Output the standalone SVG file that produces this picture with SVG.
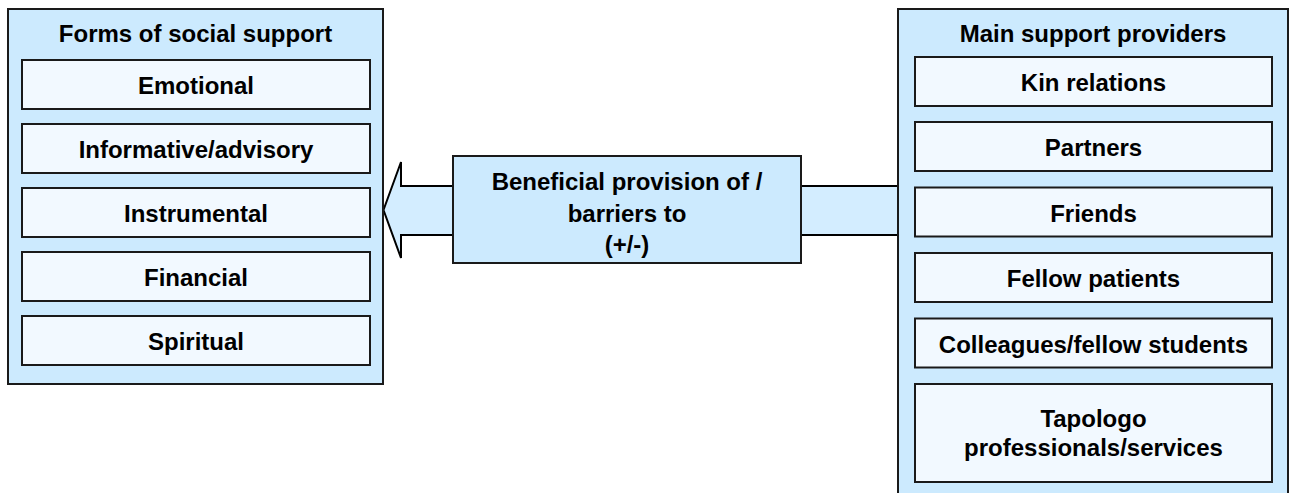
<svg xmlns="http://www.w3.org/2000/svg" width="1293" height="493" viewBox="0 0 1293 493">
<style>
text{font-family:"Liberation Sans",Arial,sans-serif;font-weight:bold;font-size:24px;fill:#000;text-anchor:middle}
.outer{fill:#CCEAFE;stroke:#1a1a1a;stroke-width:2}
.inner{fill:#F2F9FF;stroke:#1a1a1a;stroke-width:2}
.mid{fill:#CCEAFE;stroke:#1a1a1a;stroke-width:2}
.arrow{fill:#D3EDFF;stroke:#000;stroke-width:2;stroke-linejoin:miter}
</style>
<rect width="1293" height="493" fill="#fff"/>
<g id="connectors">
<polygon class="arrow" points="898,186 401,186 401,162 383.5,210 401,258 401,235 898,235"/>
</g>
<g id="forms">
<rect class="outer" x="8" y="9" width="375" height="375"/>
<text x="195.5" y="42">Forms of social support</text>
</g>
<g id="emotional"><rect class="inner" x="22" y="60" width="348" height="49"/><text x="196" y="94">Emotional</text></g>
<g id="informative"><rect class="inner" x="22" y="124" width="348" height="49"/><text x="196" y="158">Informative/advisory</text></g>
<g id="instrumental"><rect class="inner" x="22" y="188" width="348" height="49"/><text x="196" y="222">Instrumental</text></g>
<g id="financial"><rect class="inner" x="22" y="252" width="348" height="49"/><text x="196" y="286">Financial</text></g>
<g id="spiritual"><rect class="inner" x="22" y="316" width="348" height="49"/><text x="196" y="350">Spiritual</text></g>
<g id="provision">
<rect class="mid" x="453" y="156" width="348" height="107"/>
<text x="627" y="190">Beneficial provision of /</text>
<text x="627" y="222">barriers to</text>
<text x="627" y="253">(+/-)</text>
</g>
<g id="providers">
<rect class="outer" x="898" y="9" width="390" height="500"/>
<text x="1093" y="42">Main support providers</text>
</g>
<g id="kin"><rect class="inner" x="915" y="57" width="357" height="49"/><text x="1093.5" y="91">Kin relations</text></g>
<g id="partners"><rect class="inner" x="915" y="122" width="357" height="49"/><text x="1093.5" y="156">Partners</text></g>
<g id="friends"><rect class="inner" x="915" y="187.5" width="357" height="49"/><text x="1093.5" y="221.5">Friends</text></g>
<g id="fellow"><rect class="inner" x="915" y="253" width="357" height="49"/><text x="1093.5" y="287">Fellow patients</text></g>
<g id="colleagues"><rect class="inner" x="915" y="318.5" width="357" height="49"/><text x="1093.5" y="352.5">Colleagues/fellow students</text></g>
<g id="tapologo"><rect class="inner" x="915" y="384" width="357" height="98"/><text x="1093.5" y="427">Tapologo</text><text x="1093.5" y="456">professionals/services</text></g>
</svg>
